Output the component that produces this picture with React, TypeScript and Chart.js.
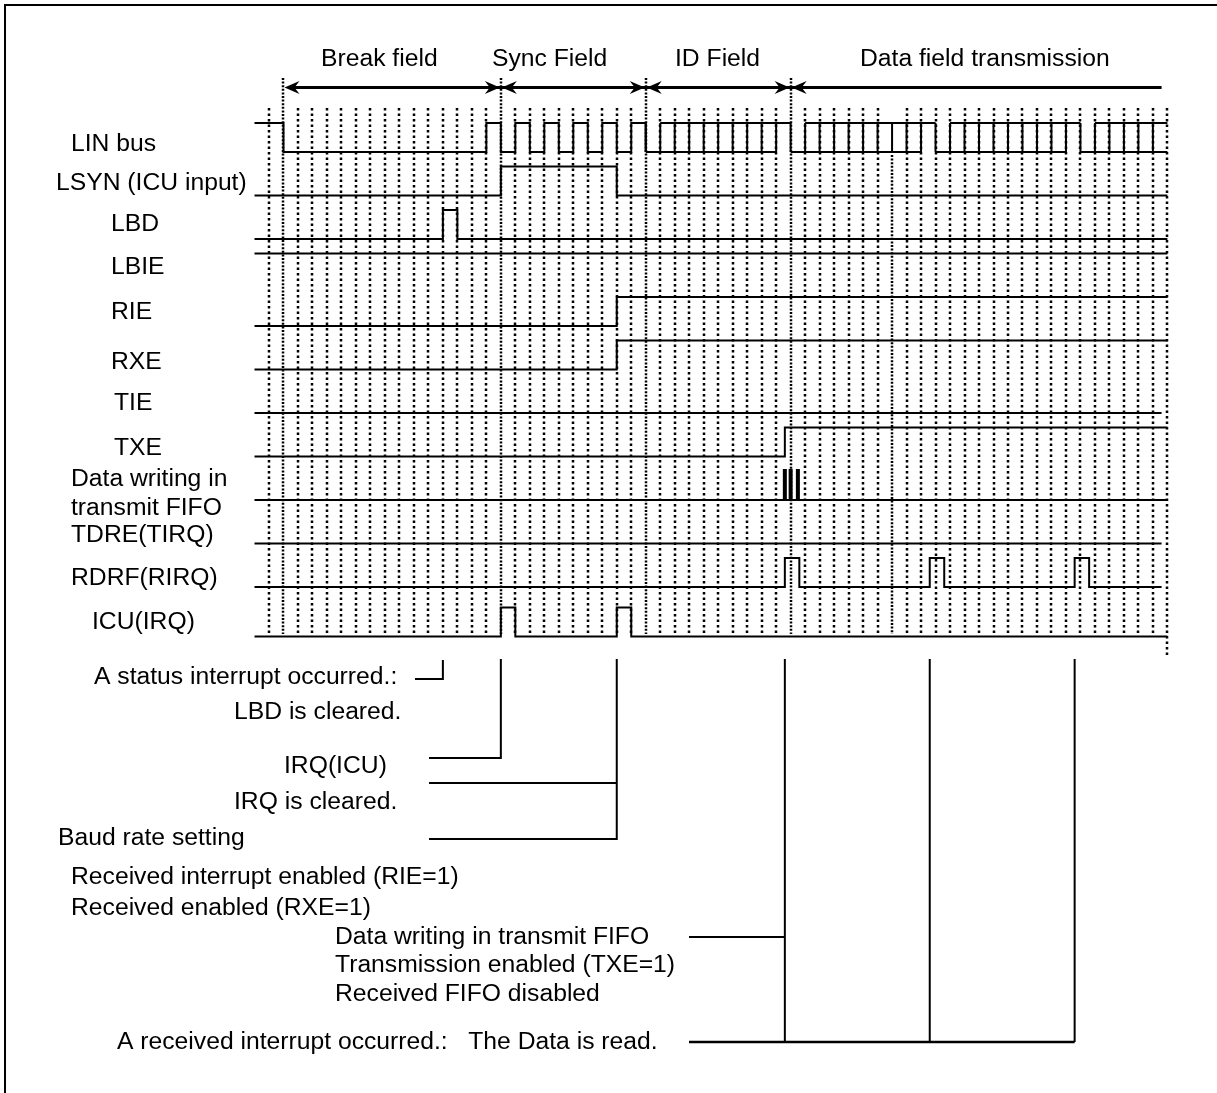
import React, { useEffect, useRef } from 'react';
import { Chart, registerables } from 'chart.js';

Chart.register(...registerables);

// ---------------- data ----------------
const SIGNAL_NAMES = [
  'LIN bus',
  'LSYN (ICU input)',
  'LBD',
  'LBIE',
  'RIE',
  'RXE',
  'TIE',
  'TXE',
  'Data writing in transmit FIFO',
  'TDRE(TIRQ)',
  'RDRF(RIRQ)',
  'ICU(IRQ)',
];

const FIELD_NAMES = ['Break field', 'Sync Field', 'ID Field', 'Data field transmission'];
const FIELD_BOUNDARIES = [1, 16, 26, 36];
const FIELD_END = 61.6;

const TIME_START = -1;
const TIME_END = 62;
const BIT_MARK = 43;

// edges (bit times) and level after each edge
const LIN_EDGES = [-1, 1, 15, 16, 17, 18, 19, 20, 21, 22, 23, 24, 25, 26];
const LIN_LEVELS = [1, 0, 1, 0, 1, 0, 1, 0, 1, 0, 1, 0, 1, 0];
const LIN_BYTE_STARTS = [26, 36, 46, 56];
const LIN_DATA_BITS = 8;

const LSYN_EDGES = [-1, 16, 24, 62];
const LSYN_LEVELS = [0, 1, 0, 0];
const LBD_EDGES = [-1, 12, 13, 62];
const LBD_LEVELS = [0, 1, 0, 0];
const LBIE_EDGES = [-1, 62];
const LBIE_LEVELS = [1, 1];
const RIE_EDGES = [-1, 24, 62];
const RIE_LEVELS = [0, 1, 1];
const RXE_EDGES = [-1, 24, 62];
const RXE_LEVELS = [0, 1, 1];
const TIE_EDGES = [-1, 61.6];
const TIE_LEVELS = [0, 0];
const TXE_EDGES = [-1, 35.6, 62];
const TXE_LEVELS = [0, 1, 1];
const DW_EDGES = [-1, 62];
const DW_LEVELS = [0, 0];
const DW_PULSES = [35.6, 36.0, 36.5];
const TDRE_EDGES = [-1, 61.6];
const TDRE_LEVELS = [0, 0];
const RDRF_EDGES = [-1, 35.6, 36.6, 45.6, 46.6, 55.6, 56.6, 61.6];
const RDRF_LEVELS = [0, 1, 0, 1, 0, 1, 0, 0];
const ICU_EDGES = [-1, 16, 17, 24, 25, 62];
const ICU_LEVELS = [0, 1, 0, 1, 0, 0];

// event times referenced by the notes below the diagram
const NOTE_STATUS = 12;
const NOTE_ICU = 16;
const NOTE_BAUD = 24;
const NOTE_WRITE = 35.6;
const NOTE_READS = [35.6, 45.6, 55.6];

// ---------------- layout ----------------
const W = 1217;
const H = 1093;
const X_ORIGIN = 269; // pixel of bit 0
const PX_PER_BIT = 14.49;
const Y_ORIGIN = 152; // pixel of row 0 baseline
const PX_PER_ROW = 43.5;
const LEVEL_H = 29 / 43.5;
const ROWS = [0, 1, 2, 3, 4, 5, 6, 7, 8, 9, 10, 11.14];
const FONT = '24.7px "Liberation Sans", Arial, sans-serif';

const LABEL_POS: [string, number, number][] = [
  ['LIN bus', 71, 144],
  ['LSYN (ICU input)', 56, 183],
  ['LBD', 111, 224],
  ['LBIE', 111, 267],
  ['RIE', 111, 312],
  ['RXE', 111, 362],
  ['TIE', 114, 403],
  ['TXE', 114, 448],
  ['Data writing in', 71, 479],
  ['transmit FIFO', 71, 508],
  ['TDRE(TIRQ)', 71, 535],
  ['RDRF(RIRQ)', 71, 578],
  ['ICU(IRQ)', 92, 622],
];
const FIELD_TEXT_X = [321, 492, 675, 860];

const NOTE_TEXTS: [string, number, number][] = [
  ['A status interrupt occurred.:', 94, 677],
  ['LBD is cleared.', 234, 712],
  ['IRQ(ICU)', 284, 766],
  ['IRQ is cleared.', 234, 802],
  ['Baud rate setting', 58, 838],
  ['Received interrupt enabled (RIE=1)', 71, 877],
  ['Received enabled (RXE=1)', 71, 908],
  ['Data writing in transmit FIFO', 335, 937],
  ['Transmission enabled (TXE=1)', 335, 965],
  ['Received FIFO disabled', 335, 994],
  ['A received interrupt occurred.:   The Data is read.', 117, 1042],
];

type P = { x: number; y: number | null };

function stepPoints(row: number, edges: number[], levels: number[]): P[] {
  return edges.map((e, i) => ({ x: e, y: row - levels[i] * LEVEL_H }));
}

function ladderPoints(row: number): P[] {
  const pts: P[] = [];
  const lo = row;
  const hi = row - LEVEL_H;
  LIN_BYTE_STARTS.forEach((s) => {
    const bottomEnd = Math.min(s + LIN_DATA_BITS + 1, TIME_END);
    const topEnd = Math.min(s + LIN_DATA_BITS + 2, TIME_END);
    pts.push({ x: s, y: lo }, { x: bottomEnd, y: lo }, { x: bottomEnd, y: null });
    pts.push({ x: s + 1, y: hi }, { x: topEnd, y: hi }, { x: topEnd, y: null });
    for (let k = s; k <= s + LIN_DATA_BITS + 1 && k < TIME_END; k++) {
      pts.push({ x: k, y: lo }, { x: k, y: hi }, { x: k, y: null });
    }
  });
  return pts;
}

function pulsePoints(row: number, xs: number[]): P[] {
  const pts: P[] = [];
  xs.forEach((x) => {
    pts.push({ x, y: row }, { x, y: row - LEVEL_H * 1.07 }, { x, y: null });
  });
  return pts;
}

export default function App() {
  const ref = useRef<HTMLCanvasElement | null>(null);

  useEffect(() => {
    if (!ref.current) return;
    const stepDs = (data: P[]) => ({
      data,
      borderColor: '#000',
      borderWidth: 2,
      pointRadius: 0,
      stepped: 'before' as const,
      fill: false,
      spanGaps: false,
      tension: 0,
    });
    const segDs = (data: P[], w: number) => ({
      data,
      borderColor: '#000',
      borderWidth: w,
      pointRadius: 0,
      fill: false,
      spanGaps: false,
      tension: 0,
      borderCapStyle: 'butt' as const,
    });

    const datasets: any[] = [
      stepDs(stepPoints(ROWS[0], LIN_EDGES, LIN_LEVELS)),
      segDs(ladderPoints(ROWS[0]), 2),
      stepDs(stepPoints(ROWS[1], LSYN_EDGES, LSYN_LEVELS)),
      stepDs(stepPoints(ROWS[2], LBD_EDGES, LBD_LEVELS)),
      stepDs(stepPoints(ROWS[3], LBIE_EDGES, LBIE_LEVELS)),
      stepDs(stepPoints(ROWS[4], RIE_EDGES, RIE_LEVELS)),
      stepDs(stepPoints(ROWS[5], RXE_EDGES, RXE_LEVELS)),
      stepDs(stepPoints(ROWS[6], TIE_EDGES, TIE_LEVELS)),
      stepDs(stepPoints(ROWS[7], TXE_EDGES, TXE_LEVELS)),
      stepDs(stepPoints(ROWS[8], DW_EDGES, DW_LEVELS)),
      segDs(pulsePoints(ROWS[8], DW_PULSES), 4),
      stepDs(stepPoints(ROWS[9], TDRE_EDGES, TDRE_LEVELS)),
      stepDs(stepPoints(ROWS[10], RDRF_EDGES, RDRF_LEVELS)),
      stepDs(stepPoints(ROWS[11], ICU_EDGES, ICU_LEVELS)),
    ];

    const decor = {
      id: 'decor',
      beforeDatasetsDraw(chart: any) {
        const ctx = chart.ctx as CanvasRenderingContext2D;
        const xs = chart.scales.x;
        ctx.save();
        ctx.fillStyle = '#fff';
        ctx.fillRect(0, 0, W, H);
        // frame
        ctx.strokeStyle = '#000';
        ctx.lineWidth = 2;
        ctx.beginPath();
        ctx.moveTo(5, H);
        ctx.lineTo(5, 5);
        ctx.lineTo(W, 5);
        ctx.stroke();
        // dotted bit grid
        for (let k = 0; k <= TIME_END; k++) {
          const x = Math.round(xs.getPixelForValue(k));
          let y0 = 108;
          let y1 = 634;
          let dash = [2.5, 3];
          if (FIELD_BOUNDARIES.includes(k)) {
            y0 = 78;
            dash = [2, 1.6];
          } else if (k === BIT_MARK) {
            y0 = 155;
            dash = [2, 1.6];
          } else if (k === TIME_END) {
            y1 = 656;
          }
          ctx.setLineDash(dash);
          ctx.lineWidth = 2.5;
          ctx.beginPath();
          ctx.moveTo(x, y0);
          ctx.lineTo(x, y1);
          ctx.stroke();
        }
        ctx.setLineDash([]);
        ctx.restore();
      },
      afterDatasetsDraw(chart: any) {
        const ctx = chart.ctx as CanvasRenderingContext2D;
        const xs = chart.scales.x;
        const X = (k: number) => xs.getPixelForValue(k);
        ctx.save();
        ctx.fillStyle = '#000';
        ctx.strokeStyle = '#000';
        ctx.font = FONT;
        ctx.textBaseline = 'middle';
        ctx.textAlign = 'left';
        // field arrows
        const ay = 87.5;
        ctx.lineWidth = 3;
        ctx.beginPath();
        ctx.moveTo(X(FIELD_BOUNDARIES[0]) + 6, ay);
        ctx.lineTo(X(FIELD_END), ay);
        ctx.stroke();
        const head = (x: number, dir: number) => {
          ctx.beginPath();
          ctx.moveTo(x, ay);
          ctx.lineTo(x + dir * 15, ay - 6.5);
          ctx.lineTo(x + dir * 10, ay);
          ctx.lineTo(x + dir * 15, ay + 6.5);
          ctx.closePath();
          ctx.fill();
        };
        FIELD_BOUNDARIES.forEach((b, i) => {
          const x = X(b);
          head(x + 1, 1);
          if (i > 0) head(x - 1, -1);
        });
        FIELD_NAMES.forEach((n, i) => ctx.fillText(n, FIELD_TEXT_X[i], 59));
        // signal labels
        LABEL_POS.forEach(([t, x, y]) => ctx.fillText(t, x, y));
        // notes
        NOTE_TEXTS.forEach(([t, x, y]) => ctx.fillText(t, x, y));
        ctx.lineWidth = 2;
        const line = (pts: [number, number][]) => {
          ctx.beginPath();
          pts.forEach(([x, y], i) => (i ? ctx.lineTo(x, y) : ctx.moveTo(x, y)));
          ctx.stroke();
        };
        line([[415, 679], [X(NOTE_STATUS), 679], [X(NOTE_STATUS), 660]]);
        line([[429, 758], [X(NOTE_ICU), 758], [X(NOTE_ICU), 659]]);
        line([[429, 783], [X(NOTE_BAUD), 783]]);
        line([[429, 839], [X(NOTE_BAUD), 839], [X(NOTE_BAUD), 659]]);
        line([[689, 937], [X(NOTE_WRITE), 937]]);
        NOTE_READS.forEach((k) => line([[X(k), 659], [X(k), 1042]]));
        ctx.lineWidth = 2.5;
        line([[689, 1042], [X(NOTE_READS[NOTE_READS.length - 1]), 1042]]);
        ctx.restore();
      },
    };

    const chart = new Chart(ref.current, {
      type: 'line',
      data: { datasets },
      options: {
        animation: false,
        responsive: false,
        events: [],
        layout: { padding: 0 },
        plugins: { legend: { display: false }, tooltip: { enabled: false } },
        scales: {
          x: {
            type: 'linear',
            display: false,
            min: -X_ORIGIN / PX_PER_BIT,
            max: (W - X_ORIGIN) / PX_PER_BIT,
          },
          y: {
            type: 'linear',
            display: false,
            reverse: true,
            min: -Y_ORIGIN / PX_PER_ROW,
            max: (H - Y_ORIGIN) / PX_PER_ROW,
          },
        },
      },
      plugins: [decor],
    });
    return () => chart.destroy();
  }, []);

  return (
    <div style={{ position: 'absolute', left: 0, top: 0, width: W, height: H, background: '#fff' }}>
      <canvas ref={ref} width={W} height={H} style={{ display: 'block' }} />
    </div>
  );
}
